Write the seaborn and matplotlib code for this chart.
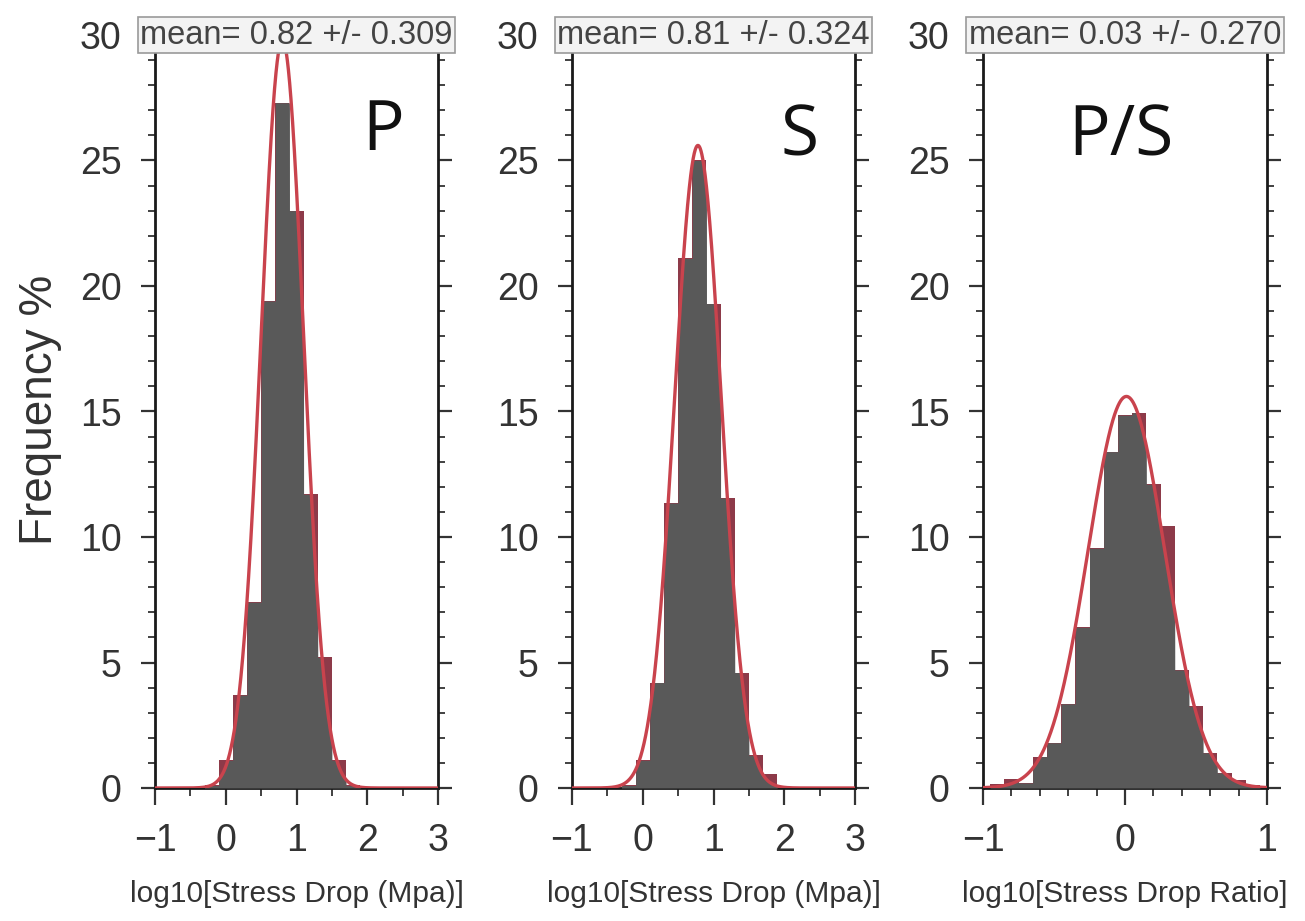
import numpy as np
import pandas as pd
import matplotlib
matplotlib.use("Agg")
import matplotlib.pyplot as plt
from matplotlib.ticker import MultipleLocator
import seaborn as sns

# ---------------- data ----------------
p_centers = [-0.2, 0.0, 0.2, 0.4, 0.6, 0.8, 1.0, 1.2, 1.4, 1.6, 1.8]
p_freq = [0.1, 1.1, 3.7, 7.4, 19.4, 27.3, 23.0, 11.7, 5.2, 1.1, 0.1]

s_centers = [-0.2, 0.0, 0.2, 0.4, 0.6, 0.8, 1.0, 1.2, 1.4, 1.6, 1.8]
s_freq = [0.1, 1.1, 4.2, 11.35, 21.1, 25.0, 19.3, 11.55, 4.6, 1.3, 0.55]

ps_centers = [-0.9, -0.8, -0.7, -0.6, -0.5, -0.4, -0.3, -0.2, -0.1, 0.0,
              0.1, 0.2, 0.3, 0.4, 0.5, 0.6, 0.7, 0.8, 0.9]
ps_freq = [0.15, 0.35, 0.2, 1.25, 1.8, 3.35, 6.4, 9.55, 13.4, 14.85,
           14.95, 12.1, 10.45, 4.7, 3.25, 1.4, 0.6, 0.3, 0.1]

bin_widths = [0.2, 0.2, 0.1]
# fitted normal curves: (mean, sigma, peak %)
fit_mean = [0.80, 0.78, 0.01]
fit_sigma = [0.30, 0.33, 0.27]
fit_peak = [29.8, 25.6, 15.6]

box_labels = ["mean= 0.82 +/- 0.309", "mean= 0.81 +/- 0.324", "mean= 0.03 +/- 0.270"]
panel_tags = ["P", "S", "P/S"]
tag_x = [2.22, 2.22, -0.03]
tag_y = [25.4, 25.2, 25.2]
x_labels = ["log10[Stress Drop (Mpa)]", "log10[Stress Drop (Mpa)]", "log10[Stress Drop Ratio]"]
x_limits = [(-1, 3), (-1, 3), (-1, 1)]
x_minor = [0.5, 0.5, 0.2]
y_label = "Frequency %"

# ---------------- style ----------------
sns.set_theme(style="ticks")
plt.rcParams["font.family"] = ["Liberation Sans", "DejaVu Sans"]
plt.rcParams["axes.unicode_minus"] = True

BAR_RED = "#8d3a49"
GRAY = "#595959"
CURVE = "#c9434d"

W, H = 1305, 921
fig = plt.figure(figsize=(W / 100, H / 100), dpi=100)

lefts_px = [155, 572, 983]
rights_px = [438, 855, 1267]
top_px, bottom_px = 35, 788

centers_all = [p_centers, s_centers, ps_centers]
freqs_all = [p_freq, s_freq, ps_freq]

for i in range(3):
    l, r = lefts_px[i], rights_px[i]
    ax = fig.add_axes([l / W, 1 - bottom_px / H, (r - l) / W, (bottom_px - top_px) / H])
    c = np.array(centers_all[i], dtype=float)
    f = np.array(freqs_all[i], dtype=float)
    bw = bin_widths[i]
    edges = [float(e) for e in np.append(c - bw / 2, c[-1] + bw / 2)]
    df = pd.DataFrame({"x": c, "w": f})

    # histogram bars (dark red) through seaborn
    sns.histplot(data=df, x="x", weights="w", bins=edges, stat="count", color=BAR_RED,
                 alpha=1.0, edgecolor=None, linewidth=0, ax=ax, zorder=2)

    # gray part of bars lying under the fitted curve
    xg = np.linspace(x_limits[i][0], x_limits[i][1], 6001)
    gauss = fit_peak[i] * np.exp(-0.5 * ((xg - fit_mean[i]) / fit_sigma[i]) ** 2)
    ed = np.array(edges)
    idx = np.searchsorted(ed, xg, side="right") - 1
    step = np.where((idx >= 0) & (idx < len(f)), f[np.clip(idx, 0, len(f) - 1)], 0.0)
    ax.fill_between(xg, 0, np.minimum(step, gauss), color=GRAY, lw=0, zorder=3)

    sns.lineplot(x=xg, y=gauss, color=CURVE, lw=2.4, ax=ax, zorder=4)

    ax.set_xlim(*x_limits[i])
    ax.set_ylim(0, 30)
    ax.xaxis.set_major_locator(MultipleLocator(1))
    ax.xaxis.set_minor_locator(MultipleLocator(x_minor[i]))
    ax.yaxis.set_major_locator(MultipleLocator(5))
    ax.yaxis.set_minor_locator(MultipleLocator(1))

    for sp in ax.spines.values():
        sp.set_visible(True)
        sp.set_color("#1a1a1a")
        sp.set_linewidth(2.0)

    ax.tick_params(axis="y", which="both", left=True, right=True, direction="out",
                   colors="#333333", labelcolor="#333333")
    ax.tick_params(axis="y", which="major", length=10, width=1.6, pad=14, labelsize=27)
    ax.tick_params(axis="y", which="minor", length=5, width=1.3)
    ax.tick_params(axis="x", which="both", bottom=True, direction="out",
                   colors="#333333", labelcolor="#333333")
    ax.tick_params(axis="x", which="major", length=12, width=1.6, pad=13, labelsize=27)
    ax.tick_params(axis="x", which="minor", length=6, width=1.3)

    ax.set_ylabel("")
    ax.set_xlabel(x_labels[i], fontsize=21.5, color="#333333")
    ax.xaxis.set_label_coords(0.5, -0.141)
    ax.xaxis.label.set_va("center")

    ax.text(0.5, 1.0, box_labels[i], transform=ax.transAxes, ha="center", va="center",
            fontsize=23.5, color="#444444", zorder=10, clip_on=False,
            bbox=dict(boxstyle="square,pad=0.08", fc="#f3f3f3", ec="#9a9a9a", lw=1.2))

    ax.text(tag_x[i], tag_y[i], panel_tags[i], ha="center", va="baseline",
            fontsize=50, color="#111111", family=["Open Sans", "DejaVu Sans"], zorder=6)

fig.text(40 / W, 1 - 410 / H, y_label, rotation=90, ha="center", va="center",
         fontsize=33, color="#333333")

fig.savefig("out.png", dpi=100, facecolor="white")
